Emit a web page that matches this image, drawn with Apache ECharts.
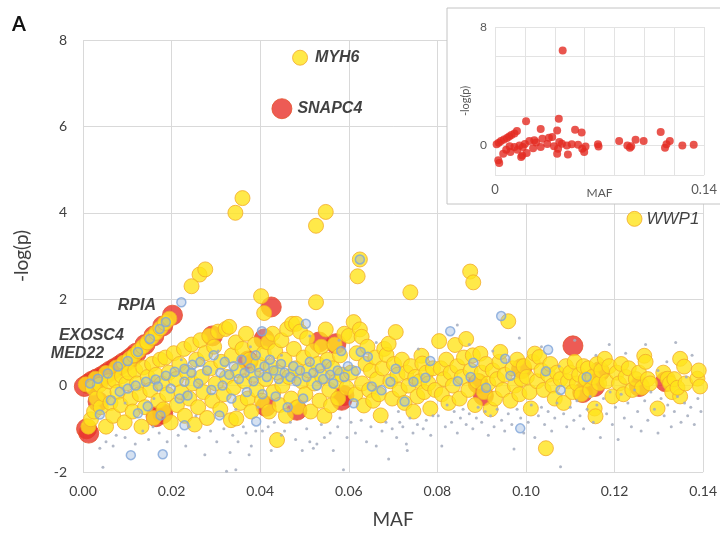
<!DOCTYPE html>
<html>
<head>
<meta charset="utf-8">
<script src="https://cdn.jsdelivr.net/npm/echarts/dist/echarts.min.js"></script>
<style>
  html, body { margin: 0; padding: 0; background: #fff; }
  #chart { width: 720px; height: 534px; }
</style>
</head>
<body>
<div id="chart"></div>
<script>
// Gene-level association scan: minor allele frequency (MAF) against -log(p).
// Each point class is kept in its own list of [MAF, -log(p)] pairs.

const yellowGenes = [
  // rising run of low-frequency genes
  [0.0006,0.03],[0.0028,0.16],[0.0052,0.29],[0.0075,0.42],[0.0092,0.53],[0.0105,0.62],[0.0115,0.7],
  [0.0125,0.8],[0.0135,0.9],[0.0145,1.0],[0.0155,1.11],[0.0165,1.22],[0.0175,1.33],[0.0185,1.45],
  [0.0195,1.55],
  // MAF < 0.02
  [0.0012,-0.95],[0.0018,-0.78],[0.0025,-0.6],[0.0022,-0.05],[0.003,-0.3],[0.0038,0.02],[0.004,-0.5],
  [0.0048,-0.2],[0.0052,-0.95],[0.0058,0.1],[0.0062,-0.4],[0.0068,-0.7],[0.0072,0.12],[0.0078,-0.15],
  [0.0085,-0.45],[0.0088,0.22],[0.0094,-0.85],[0.0098,0.05],[0.0104,0.3],[0.0108,-0.3],[0.0112,-0.6],
  [0.0118,0.35],[0.0122,0.05],[0.0128,-0.2],[0.0132,-0.95],[0.0136,0.42],[0.014,-0.5],[0.0146,0.2],
  [0.0152,-0.1],[0.0156,0.5],[0.016,-0.75],[0.0165,0.25],[0.017,-0.35],[0.0174,0.6],[0.0178,0.05],
  [0.0182,-0.55],[0.0186,0.65],[0.019,-0.2],[0.0194,0.3],[0.0198,-0.85],
  // 0.02 - 0.04
  [0.0205,0.75],[0.021,0.15],[0.0212,-0.45],[0.0218,0.5],[0.0222,-0.15],[0.0228,0.85],[0.023,-0.7],
  [0.0235,0.3],[0.024,-0.3],[0.0245,0.95],[0.0248,0.05],[0.0252,-0.9],[0.0256,0.6],[0.026,-0.5],
  [0.0265,1.05],[0.0268,0.2],[0.0272,-0.15],[0.0276,0.75],[0.028,-0.75],[0.0285,1.15],[0.0288,0.4],
  [0.0292,-0.35],[0.0296,0.9],[0.03,0.05],[0.0305,1.25],[0.031,-0.55],[0.0312,0.55],[0.0318,-0.2],
  [0.0322,1.31],[0.0325,0.2],[0.033,1.36],[0.0334,-0.8],[0.0336,0.7],[0.034,-0.05],[0.0345,1.0],
  [0.0346,-0.76],[0.035,0.35],[0.0355,-0.4],[0.036,0.85],[0.0364,0.1],[0.0368,1.2],[0.0372,-0.3],
  [0.0376,0.6],[0.038,-0.6],[0.0384,0.25],[0.0388,0.95],[0.0392,-0.1],[0.0396,0.5],
  // 0.04 - 0.06
  [0.0402,2.07],[0.0409,1.68],[0.0404,-0.35],[0.0408,0.75],[0.0412,0.15],[0.0418,1.0],[0.042,-0.6],
  [0.0424,0.45],[0.0428,1.2],[0.043,-0.15],[0.0434,0.8],[0.0438,-1.26],[0.044,0.3],[0.0444,-0.45],
  [0.0448,1.05],[0.045,0.0],[0.0455,0.6],[0.0458,-0.7],[0.0461,1.31],[0.0465,0.2],[0.047,-0.3],
  [0.0472,1.43],[0.0476,0.85],[0.048,0.4],[0.0481,1.43],[0.0485,-0.5],[0.049,1.25],[0.0494,0.1],
  [0.0498,0.65],[0.0502,-0.2],[0.0506,1.1],[0.051,0.35],[0.0514,-0.6],[0.0518,0.8],[0.0522,0.05],
  [0.0526,1.93],[0.053,0.5],[0.0534,-0.35],[0.0538,0.9],[0.054,0.2],[0.0545,-0.7],[0.0548,1.3],
  [0.0552,0.6],[0.0556,-0.1],[0.056,-0.46],[0.0564,0.4],[0.0568,0.95],[0.0572,0.1],[0.0576,-0.3],
  [0.058,0.7],[0.0585,0.25],[0.059,1.2],[0.0595,-0.05],[0.06,1.15],
  // 0.06 - 0.08
  [0.0605,0.3],[0.0611,1.47],[0.0615,-0.2],[0.0618,0.75],[0.0625,1.3],[0.0629,1.13],[0.063,0.05],
  [0.0634,-0.46],[0.0638,0.5],[0.0642,0.9],[0.0646,-0.1],[0.065,0.35],[0.0655,-0.35],[0.066,0.65],
  [0.0664,0.15],[0.0668,-0.2],[0.0672,-0.69],[0.0676,0.4],[0.068,0.85],[0.0685,0.71],[0.069,0.97],
  [0.0694,0.1],[0.0698,-0.3],[0.0702,0.5],[0.0706,1.24],[0.071,0.25],[0.0715,-0.1],[0.072,0.6],
  [0.0726,-0.4],[0.073,0.3],[0.0735,0.0],[0.074,0.45],[0.0746,-0.6],[0.075,0.2],[0.0755,-0.25],
  [0.076,0.1],[0.0764,0.69],[0.0766,0.51],[0.077,-0.15],[0.0775,0.3],[0.078,0.05],[0.0784,-0.53],
  [0.079,0.4],[0.0795,-0.1],
  // 0.08 - 0.10
  [0.0804,1.03],[0.0808,0.4],[0.081,-0.2],[0.0815,0.15],[0.082,0.6],[0.0825,-0.4],[0.083,0.3],
  [0.0835,0.0],[0.084,0.94],[0.0845,0.45],[0.085,-0.3],[0.0855,0.2],[0.086,0.65],[0.0865,1.08],
  [0.087,-0.1],[0.0875,0.35],[0.088,0.7],[0.0885,-0.45],[0.089,0.1],[0.0897,0.74],[0.09,0.3],
  [0.0905,-0.15],[0.091,0.5],[0.0915,0.05],[0.092,-0.55],[0.0925,0.35],[0.093,-0.3],[0.0935,0.15],
  [0.094,0.55],[0.0942,0.78],[0.0948,-0.1],[0.0952,0.25],[0.096,1.49],[0.0965,-0.35],[0.097,0.4],
  [0.0975,0.0],[0.098,0.6],[0.0985,-0.2],[0.099,0.15],[0.0995,0.45],
  // 0.10 - 0.12
  [0.1002,0.2],[0.1008,-0.15],[0.1011,-0.53],[0.1015,0.55],[0.102,0.74],[0.1025,0.1],[0.103,0.66],
  [0.1035,0.35],[0.104,-0.1],[0.1045,-1.45],[0.105,0.25],[0.1055,0.5],[0.106,0.0],[0.1065,-0.3],
  [0.107,0.3],[0.1078,0.15],[0.1085,-0.4],[0.109,0.45],[0.1095,0.1],[0.11,0.3],[0.1105,-0.15],
  [0.111,0.55],[0.1115,0.05],[0.112,0.25],[0.1125,-0.2],[0.113,0.45],[0.1135,0.15],[0.114,0.4],
  [0.1145,-0.1],[0.115,0.2],[0.1155,-0.53],[0.1157,-0.71],[0.116,0.5],[0.1165,0.05],[0.117,0.35],
  [0.1178,0.62],[0.1182,0.1],[0.1188,0.45],[0.1195,-0.25],
  // 0.12 - 0.14
  [0.1205,0.3],[0.121,0.05],[0.1215,0.5],[0.122,-0.2],[0.1225,0.2],[0.1232,0.4],[0.124,-0.1],
  [0.1248,0.15],[0.1255,0.3],[0.1262,-0.05],[0.1267,0.69],[0.127,0.55],[0.1275,0.15],[0.128,0.05],
  [0.1297,-0.53],[0.131,0.3],[0.132,0.16],[0.1325,0.05],[0.133,-0.15],[0.1335,0.15],[0.1348,-0.25],
  [0.1342,-0.05],[0.1348,0.62],[0.1357,0.44],[0.136,0.05],[0.1387,0.16],[0.139,0.35],[0.1393,-0.02],
  // upper outliers
  [0.036,4.34],[0.0344,4.0],[0.0548,4.02],[0.0526,3.7],[0.0625,2.92],[0.062,2.53],[0.0739,2.16],
  [0.0874,2.64],[0.0881,2.39],[0.0263,2.57],[0.0276,2.69],[0.0245,2.30]
];

const redGenes = [
  // rising run, low end
  [0.0003,-0.02],[0.0012,0.04],[0.002,0.1],[0.003,0.15],[0.005,0.26],[0.006,0.33],[0.007,0.39],
  [0.008,0.45],[0.009,0.52],[0.011,0.66],[0.012,0.75],[0.014,0.95],[0.016,1.15],[0.018,1.38],
  [0.0008,-1.0],[0.0013,-1.1],[0.0034,-0.37],[0.018,-0.65],[0.0165,-0.72],
  [0.0292,1.15],[0.0373,0.57],[0.0409,1.08],[0.0413,-0.48],[0.0425,1.82],[0.0483,-0.57],
  [0.0533,1.01],[0.0571,0.97],[0.0589,-0.23],[0.0584,-0.34],
  [0.0904,-0.23],[0.0892,0.05],[0.099,0.39],[0.1106,0.92],[0.1166,0.32],[0.1155,-0.02],
  [0.1128,-0.16],[0.1256,-0.02],[0.1315,0.09]
];

const blueGenes = [
  // along the rising run
  [0.0016,0.05],[0.0034,0.16],[0.0056,0.28],[0.0079,0.44],[0.0101,0.57],[0.0124,0.78],[0.0151,1.08],
  [0.0173,1.31],[0.0187,1.47],
  // low-frequency band
  [0.0038,-0.67],[0.0063,-0.34],[0.0083,-0.14],[0.0101,-0.07],[0.0119,0.0],[0.0142,0.09],[0.0164,0.14],
  [0.0187,0.23],[0.0207,0.32],[0.0229,0.39],[0.0247,0.48],[0.0169,-0.02],[0.0198,-0.07],[0.0229,0.09],
  [0.0236,-0.23],[0.0218,-0.3],[0.0175,-0.69],[0.0229,-0.92],[0.0146,-0.48],[0.0124,-0.64],
  [0.0222,1.93],[0.0108,-1.61],[0.018,-1.59],
  // 0.024 - 0.06
  [0.0245,0.3],[0.026,0.05],[0.0265,0.55],[0.028,0.35],[0.029,-0.1],[0.0295,0.7],[0.031,0.3],
  [0.0315,0.0],[0.032,0.55],[0.033,0.25],[0.0335,-0.3],[0.034,0.45],[0.0352,0.15],[0.0358,0.6],
  [0.0365,0.3],[0.037,-0.15],[0.0378,0.4],[0.0385,0.1],[0.039,0.7],[0.0398,0.3],[0.0405,-0.2],
  [0.041,0.45],[0.0415,0.2],[0.0422,0.6],[0.043,0.35],[0.0435,-0.25],[0.0442,0.15],[0.0447,0.5],
  [0.0455,0.3],[0.0462,-0.5],[0.0468,0.2],[0.0475,0.45],[0.0482,0.1],[0.049,0.35],[0.0497,-0.3],
  [0.0505,0.2],[0.0512,0.55],[0.052,0.3],[0.0528,0.0],[0.0535,0.4],[0.0542,0.15],[0.055,0.5],
  [0.0558,0.25],[0.0565,0.05],[0.0575,0.35],[0.0583,0.8],[0.059,0.2],[0.0598,0.45],
  [0.0503,1.43],[0.0404,1.26],[0.0391,-0.83],[0.0308,-0.69],
  // 0.06 - 0.14
  [0.0625,2.92],[0.0627,0.78],[0.0643,0.67],[0.0616,0.34],[0.0652,-0.02],[0.0674,-0.11],[0.0694,0.09],
  [0.0706,0.39],[0.0746,0.09],[0.0773,0.18],[0.0784,0.57],[0.0726,-0.37],[0.0611,-0.41],
  [0.0944,1.61],[0.0829,1.26],[0.105,0.83],[0.0881,0.53],[0.0953,0.62],[0.0965,0.23],[0.0875,0.2],
  [0.1045,0.33],[0.1078,-0.1],[0.1137,0.2],[0.0987,-0.99],[0.0846,0.1],[0.091,-0.05]
];

const grayVariants = [
  [0.0038,-1.45],[0.0052,-1.3],[0.0045,-1.89],[0.0068,-1.4],[0.0075,-1.15],[0.0095,-1.2],[0.0118,-1.35],
  [0.0135,-1.05],[0.0148,-1.25],[0.0158,-0.95],[0.0172,-1.1],[0.019,-1.3],[0.0095,-0.4],[0.016,-0.3],
  [0.0215,-1.15],[0.0232,-1.4],[0.024,-0.95],[0.0262,-1.2],[0.0275,-1.6],[0.0288,-1.05],[0.0302,-1.3],
  [0.0318,-1.0],[0.0324,-1.98],[0.0332,-1.55],[0.0338,-1.15],[0.0345,-1.95],[0.035,-1.3],[0.0362,-0.95],
  [0.0368,-1.1],[0.0375,-1.6],[0.038,-1.4],[0.039,-1.05],[0.0395,-0.5],[0.0255,-0.7],[0.0345,-0.55],
  [0.0222,0.6],[0.0378,0.9],[0.0305,0.8],
  [0.0405,-1.05],[0.0418,-0.95],[0.0425,-1.5],[0.0432,-0.85],[0.0448,-1.15],[0.0455,-1.05],[0.0468,-0.85],
  [0.048,-1.25],[0.0495,-1.5],[0.0505,-1.0],[0.0512,-1.3],[0.052,-1.45],[0.0528,-1.35],[0.0538,-0.9],
  [0.0545,-1.2],[0.0558,-1.1],[0.0565,-1.5],[0.0575,-0.95],[0.0588,-1.95],[0.0596,-1.2],[0.0448,0.7],
  [0.0512,1.15],[0.0578,1.05],[0.058,-0.75],
  [0.0605,-0.85],[0.0615,-1.1],[0.0628,-0.8],[0.064,-1.3],[0.065,-0.95],[0.0662,-1.4],[0.0675,-1.05],
  [0.0684,-0.85],[0.069,-1.7],[0.0698,-1.0],[0.0708,-1.2],[0.0715,-0.85],[0.0722,-0.95],[0.073,-1.35],
  [0.0732,-1.5],[0.0738,-0.75],[0.0745,-1.1],[0.0755,-0.9],[0.0768,-1.0],[0.0775,-0.8],[0.0785,-1.15],
  [0.079,-0.7],[0.0662,1.0],[0.0757,0.85],[0.0712,-0.6],
  [0.0802,-0.7],[0.081,-1.4],[0.0818,-0.95],[0.0822,-0.45],[0.0832,-0.85],[0.0838,-0.6],[0.0845,-1.1],
  [0.0852,-0.75],[0.0858,-0.55],[0.0865,-0.9],[0.0872,-0.65],[0.088,-1.0],[0.0888,-0.75],[0.0892,-0.5],
  [0.09,-0.85],[0.0908,-0.6],[0.0915,-1.15],[0.092,-0.7],[0.0928,-0.95],[0.0935,-0.55],[0.0945,-0.8],
  [0.0952,-1.05],[0.096,-0.65],[0.0968,-0.9],[0.0973,-1.47],[0.098,-0.55],[0.0988,-0.75],[0.0995,-1.1],
  [0.0845,1.4],[0.0872,0.95],[0.0925,0.8],[0.0962,0.6],[0.0985,1.1],
  [0.1005,-0.85],[0.1012,-0.45],[0.102,-1.2],[0.1028,-0.7],[0.1035,-0.5],[0.1042,-0.9],[0.105,-0.6],
  [0.1058,-1.05],[0.1065,-0.75],[0.107,-0.4],[0.1078,-1.88],[0.1085,-0.65],[0.1092,-0.95],[0.11,-0.5],
  [0.1108,-0.8],[0.1115,-0.35],[0.1122,-0.7],[0.113,-1.0],[0.1138,-0.55],[0.1145,-0.25],[0.1152,-0.85],
  [0.116,-0.45],[0.1168,-1.2],[0.1175,-0.3],[0.1182,-0.65],[0.119,-0.15],[0.1195,-0.9],[0.1035,0.9],
  [0.1075,0.45],[0.111,1.05],[0.1158,0.7],[0.1188,0.95],
  [0.1202,-0.5],[0.1208,-1.25],[0.1215,-0.2],[0.1222,-0.75],[0.123,-0.4],[0.1238,-0.95],[0.1245,-0.1],
  [0.1252,-0.6],[0.126,-1.05],[0.1268,-0.35],[0.1275,-0.8],[0.1282,-0.15],[0.129,-0.55],[0.1298,-1.1],
  [0.1305,-0.3],[0.1312,-0.7],[0.132,-0.45],[0.1328,-0.95],[0.1335,-0.6],[0.1342,-0.25],[0.135,-0.85],
  [0.1358,-0.4],[0.1365,-0.7],[0.1372,-0.5],[0.138,-0.9],[0.1388,-0.3],[0.1395,-0.6],[0.1225,0.75],
  [0.127,0.95],[0.1318,0.55],[0.1338,1.0],[0.1375,0.7],[0.1298,0.35],[0.1362,0.2]
];

// Named genes
const geneNames = ['MYH6', 'SNAPC4', 'WWP1', 'RPIA', 'EXOSC4', 'MED22'];
const geneMaf   = [0.049, 0.0449, 0.1245, 0.0202, 0.010, 0.004];
const geneLogP  = [7.59, 6.41, 3.86, 1.63, 0.58, 0.2];
const geneClass = ['yellow', 'red', 'yellow', 'red', 'red', 'red'];

// Inset panel: genes of the red class only
const insetPoints = [
  [0.0453,6.42],[0.0427,1.80],[0.0208,1.64],[0.0306,1.10],[0.0416,1.01],[0.0536,1.06],[0.058,0.88],
  [0.0147,0.97],[0.1109,0.90],[0.0011,0.07],[0.0025,0.18],[0.004,0.3],[0.006,0.4],[0.008,0.5],
  [0.0095,0.6],[0.011,0.7],[0.013,0.8],[0.0022,-1.01],[0.0028,-1.19],[0.0055,-0.56],[0.0103,-0.45],
  [0.0175,-0.79],[0.0182,-0.68],[0.0212,-0.52],[0.0186,-0.11],[0.0164,0.0],[0.013,-0.1],[0.0098,-0.05],
  [0.0263,0.34],[0.0317,0.45],[0.0361,0.52],[0.0383,0.56],[0.0306,-0.11],[0.0416,-0.56],[0.0422,-0.23],
  [0.0431,0.23],[0.0448,0.11],[0.0481,0.0],[0.0488,-0.61],[0.0514,0.07],[0.0556,0.05],[0.0584,-0.23],
  [0.0597,-0.45],[0.0606,-0.07],[0.0689,0.07],[0.0693,-0.08],[0.0831,0.29],[0.0886,0.0],[0.0903,-0.16],
  [0.0912,-0.05],[0.0941,0.38],[0.0995,0.29],[0.1138,-0.16],[0.1148,0.07],[0.117,0.29],[0.1254,0.0],
  [0.133,0.05],[0.023,0.29],[0.0255,-0.2],[0.0075,-0.3],[0.015,-0.3],[0.02,0.1],[0.0275,0.2],
  [0.035,0.1],[0.0395,-0.05]
];

const FONT = 'Lato, "Liberation Sans", sans-serif';
const GENE_FONT = '"Liberation Sans", "DejaVu Sans", sans-serif';

// label placement for the named genes
const geneLabelStyle = {
  MYH6:   { position: 'right', distance: 7, fontWeight: 'bold' },
  SNAPC4: { position: 'right', distance: 5, fontWeight: 'bold' },
  WWP1:   { position: 'right', distance: 4, fontWeight: 'normal', fontSize: 17 },
  RPIA:   { position: 'left', distance: 6, offset: [0, -10], fontWeight: 'bold' },
  EXOSC4: { position: 'left', distance: 5, offset: [12, -25], fontWeight: 'bold' },
  MED22:  { position: 'left', distance: 5, offset: [19, -23], fontWeight: 'bold' }
};

function withGenes(points, cls) {
  const data = points.map(p => ({ value: p }));
  geneNames.forEach((name, i) => {
    if (geneClass[i] !== cls) return;
    const s = geneLabelStyle[name];
    data.push({
      name: name,
      value: [geneMaf[i], geneLogP[i]],
      label: Object.assign({
        show: true, formatter: name, fontStyle: 'italic', fontSize: 16,
        fontFamily: GENE_FONT, color: '#111'
      }, s)
    });
  });
  return data;
}

const chart = echarts.init(document.getElementById('chart'), null, { renderer: 'canvas' });

const gridLine = { show: true, lineStyle: { color: '#d9d9d9', width: 1 } };
const insetGridLine = { show: true, lineStyle: { color: '#e3e3e3', width: 1 } };

chart.setOption({
  animation: false,
  backgroundColor: '#fff',
  grid: [
    { left: 83, right: 14, top: 40, bottom: 60 },
    { left: 495, top: 27, width: 213, height: 148 }
  ],
  xAxis: [
    {
      gridIndex: 0, type: 'value', min: 0, max: 0.14, interval: 0.02,
      name: 'MAF', nameLocation: 'middle', nameGap: 38,
      nameTextStyle: { fontSize: 19, color: '#404040', fontFamily: FONT },
      axisLine: { show: false }, axisTick: { show: false },
      axisLabel: { margin: 12, fontSize: 14, color: '#404040', fontFamily: FONT,
        formatter: v => v.toFixed(2) },
      splitLine: gridLine, z: 0
    },
    {
      gridIndex: 1, type: 'value', min: 0, max: 0.14, interval: 0.02,
      name: 'MAF', nameLocation: 'middle', nameGap: 12, nameMoveOverlap: false,
      nameTextStyle: { fontSize: 12, color: '#595959', fontFamily: FONT },
      axisLine: { show: false }, axisTick: { show: false },
      axisLabel: { margin: 8, fontSize: 13, color: '#595959', fontFamily: FONT, showMaxLabel: true,
        formatter: v => (v === 0 ? '0' : (Math.abs(v - 0.14) < 1e-9 ? '0.14' : '')) },
      splitLine: insetGridLine, z: 11
    }
  ],
  yAxis: [
    {
      gridIndex: 0, type: 'value', min: -2, max: 8, interval: 2,
      name: '-log(p)', nameLocation: 'middle', nameGap: 52, nameRotate: 90,
      nameTextStyle: { fontSize: 19, color: '#404040', fontFamily: FONT },
      axisLine: { show: false }, axisTick: { show: false },
      axisLabel: { margin: 16, fontSize: 14, color: '#404040', fontFamily: FONT },
      splitLine: gridLine, z: 0
    },
    {
      gridIndex: 1, type: 'value', min: -2, max: 8, interval: 2,
      name: '-log(p)', nameLocation: 'middle', nameGap: 24, nameRotate: 90,
      nameTextStyle: { fontSize: 11, color: '#595959', fontFamily: FONT },
      axisLine: { show: false }, axisTick: { show: false },
      axisLabel: { margin: 8, fontSize: 12, color: '#595959', fontFamily: FONT,
        formatter: v => (v === 8 || v === 0 ? String(v) : '') },
      splitLine: insetGridLine, z: 11
    }
  ],
  graphic: [
    { type: 'text', left: 12, top: 15, z: 20,
      style: { text: 'A', font: 'bold 20px ' + FONT, fill: '#111' } },
    { type: 'rect', shape: { x: 447, y: 8, width: 290, height: 196 }, z: 10,
      style: { fill: '#fff', stroke: '#c4c4c4', lineWidth: 1 } }
  ],
  series: [
    {
      name: 'red', type: 'scatter', xAxisIndex: 0, yAxisIndex: 0, z: 2,
      symbolSize: 20, data: withGenes(redGenes, 'red'),
      itemStyle: { color: '#e8322a', borderColor: '#e5522c', borderWidth: 1 }
    },
    {
      name: 'yellow', type: 'scatter', xAxisIndex: 0, yAxisIndex: 0, z: 3,
      symbolSize: 15, data: withGenes(yellowGenes, 'yellow'),
      itemStyle: { color: '#ffe41c', borderColor: '#f2aa2a', borderWidth: 1 }
    },
    {
      name: 'blue', type: 'scatter', xAxisIndex: 0, yAxisIndex: 0, z: 4,
      symbolSize: 9, data: blueGenes,
      itemStyle: { color: 'rgba(150,180,220,0.5)', borderColor: '#7fa5da', borderWidth: 1.5 }
    },
    {
      name: 'gray', type: 'scatter', xAxisIndex: 0, yAxisIndex: 0, z: 5,
      symbolSize: 3, data: grayVariants,
      itemStyle: { color: '#a3acbd', opacity: 0.85 }
    },
    {
      name: 'inset', type: 'scatter', xAxisIndex: 1, yAxisIndex: 1, z: 12,
      symbolSize: 8, data: insetPoints,
      itemStyle: { color: '#e42a22' }
    }
  ]
});
</script>
</body>
</html>
